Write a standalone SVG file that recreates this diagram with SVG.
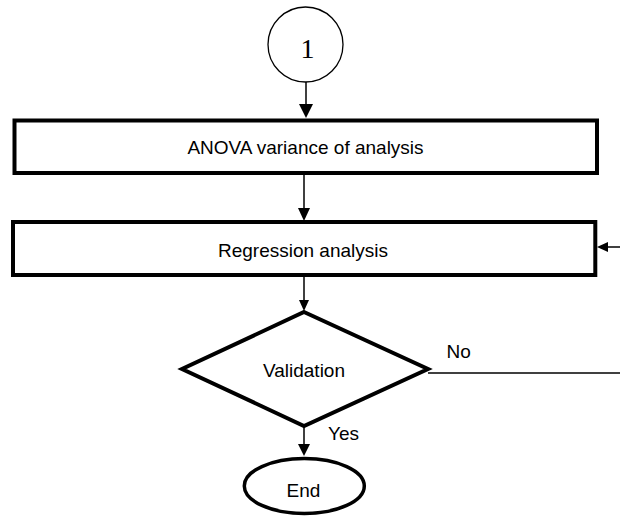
<svg xmlns="http://www.w3.org/2000/svg" width="620" height="518" viewBox="0 0 620 518">
<style>
.lbl{font-family:"Liberation Sans",Arial,sans-serif;font-size:19px;fill:#000}
.mid{text-anchor:middle}
.box{fill:#fff;stroke:#000;stroke-width:4}
.ln{stroke:#000;stroke-width:1.5;fill:none}
.head{fill:#000;stroke:none}
</style>
<rect width="620" height="518" fill="#fff"/>
<g id="start">
<circle cx="305.5" cy="44.5" r="37.5" fill="#fff" stroke="#000" stroke-width="1.3"/>
<text x="307.5" y="58" text-anchor="middle" style="font-family:'Liberation Serif','Times New Roman',serif;font-size:28px">1</text>
</g>
<g id="anova">
<rect class="box" x="14.5" y="120.5" width="582.5" height="52.5"/>
<text class="lbl mid" x="305.5" y="154">ANOVA variance of analysis</text>
</g>
<g id="regression">
<rect class="box" x="13" y="222" width="582.3" height="53"/>
<text class="lbl mid" x="303" y="257">Regression analysis</text>
</g>
<g id="validation">
<polygon points="304,312 428,369 304,426 182,369" fill="#fff" stroke="#000" stroke-width="4" stroke-linejoin="miter"/>
<text class="lbl mid" x="304" y="377">Validation</text>
</g>
<g id="end">
<ellipse cx="304.3" cy="486" rx="60" ry="27.5" fill="#fff" stroke="#000" stroke-width="3.5"/>
<text class="lbl mid" x="303.5" y="497">End</text>
</g>
<g id="connectors">
<line class="ln" x1="306" y1="82" x2="306" y2="105"/>
<polygon class="head" points="299,104 313,104 306,118"/>
<line class="ln" x1="304" y1="175" x2="304" y2="209"/>
<polygon class="head" points="298,208 310,208 304,221"/>
<line class="ln" x1="620" y1="247" x2="606" y2="247"/>
<polygon class="head" points="597,247 608,242 608,252"/>
<line class="ln" x1="304" y1="277" x2="304" y2="301"/>
<polygon class="head" points="299,300 309,300 304,311"/>
<line class="ln" x1="428" y1="373" x2="620" y2="373"/>
<line class="ln" x1="304" y1="426" x2="304" y2="445"/>
<polygon class="head" points="298,444 310,444 304,456"/>
<text class="lbl" x="446.5" y="358">No</text>
<text class="lbl" x="328" y="440">Yes</text>
</g>
</svg>
